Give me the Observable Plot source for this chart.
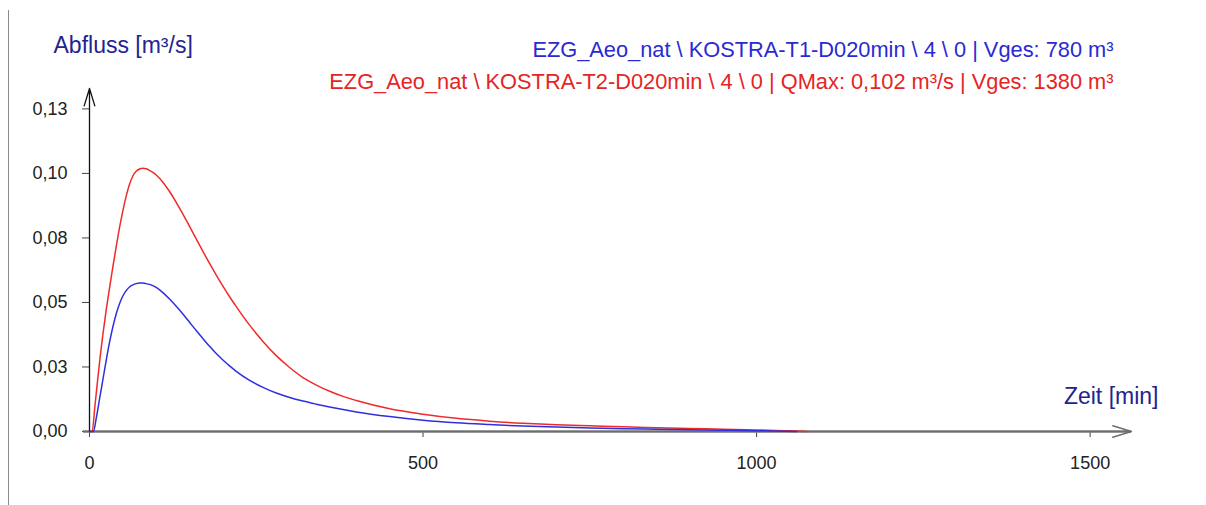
<!DOCTYPE html>
<html>
<head>
<meta charset="utf-8">
<script src="https://cdn.jsdelivr.net/npm/d3@7"></script>
<script src="https://cdn.jsdelivr.net/npm/@observablehq/plot@0.6"></script>
<style>
  html, body { margin: 0; padding: 0; background: #ffffff; }
  #wrap { position: relative; width: 1206px; height: 505px; }
  #edge { position: absolute; left: 8px; top: 10px; bottom: 0; width: 1px; background: #8c8c8c; }
</style>
</head>
<body>
<div id="wrap"><div id="edge"></div></div>
<script>
// Time [min] and discharge [m³/s]
const timeT1 = [0, 6, 10, 15, 20, 25, 30, 35, 40, 45, 50, 55, 60, 65, 70, 75, 80, 85, 90, 100, 110, 120, 130, 140, 150, 160, 170, 180, 190, 200, 210, 220, 240, 260, 280, 300, 320, 340, 360, 380, 400, 450, 500, 550, 600, 650, 700, 750, 800, 850, 900, 950, 1000, 1060];
const flowT1 = [0, 0, 0.0050, 0.0125, 0.0200, 0.0275, 0.0345, 0.0405, 0.0455, 0.0495, 0.0525, 0.0546, 0.0560, 0.0568, 0.0573, 0.0575, 0.0575, 0.0573, 0.0570, 0.0558, 0.0538, 0.0513, 0.0485, 0.0455, 0.0423, 0.0391, 0.0360, 0.0330, 0.0302, 0.0277, 0.0254, 0.0233, 0.0198, 0.0171, 0.0149, 0.0132, 0.0118, 0.0106, 0.0095, 0.0085, 0.0076, 0.0058, 0.0044, 0.0034, 0.0027, 0.0021, 0.0017, 0.0014, 0.0011, 0.0009, 0.0007, 0.0005, 0.0003, 0];

const timeT2 = [0, 4, 8, 12, 16, 20, 25, 30, 35, 40, 45, 50, 55, 60, 65, 70, 75, 80, 85, 90, 95, 100, 110, 120, 130, 140, 150, 160, 170, 180, 190, 200, 210, 220, 240, 260, 280, 300, 320, 340, 360, 380, 400, 450, 500, 550, 600, 650, 700, 750, 800, 850, 900, 950, 1000, 1050, 1075];
const flowT2 = [0, 0, 0.0095, 0.0195, 0.0290, 0.0375, 0.0470, 0.0555, 0.0638, 0.0715, 0.0790, 0.0855, 0.0912, 0.0958, 0.0990, 0.1008, 0.1017, 0.1020, 0.1018, 0.1012, 0.1004, 0.0994, 0.0966, 0.0930, 0.0888, 0.0842, 0.0795, 0.0746, 0.0698, 0.0651, 0.0606, 0.0563, 0.0522, 0.0484, 0.0412, 0.0349, 0.0294, 0.0248, 0.0209, 0.0180, 0.0156, 0.0136, 0.0120, 0.0088, 0.0067, 0.0051, 0.0040, 0.0032, 0.0026, 0.0022, 0.0018, 0.0015, 0.0012, 0.0009, 0.0006, 0.0003, 0];

const seriesNames = ["EZG_Aeo_nat \\ KOSTRA-T1-D020min \\ 4 \\ 0 | Vges: 780 m³",
                     "EZG_Aeo_nat \\ KOSTRA-T2-D020min \\ 4 \\ 0 | QMax: 0,102 m³/s | Vges: 1380 m³"];
const seriesColors = ["#2f2fe0", "#f02a2a"];
const legendColors = ["#2a2ad2", "#e52424"];

const xTicks = [0, 500, 1000, 1500];
const yTicks = [0, 0.025, 0.05, 0.075, 0.1, 0.125];
const yTickLabels = ["0,00", "0,03", "0,05", "0,08", "0,10", "0,13"];

const yAxisTitle = "Abfluss [m³/s]";
const xAxisTitle = "Zeit [min]";

const rows = [
  ...timeT1.map((t, i) => ({t, q: flowT1[i], s: 0})),
  ...timeT2.map((t, i) => ({t, q: flowT2[i], s: 1}))
];

const xMax = 1562, yMax = 0.1329;
const titleColor = "#23238e";

const chart = Plot.plot({
  width: 1206,
  height: 505,
  marginLeft: 89,
  marginRight: 75,
  marginTop: 88,
  marginBottom: 74,
  x: {domain: [0, xMax]},
  y: {domain: [0, yMax]},
  style: {fontFamily: "'Liberation Sans', Arial, sans-serif", fontSize: "18px", background: "transparent", color: "#222"},
  marks: [
    Plot.axisX(xTicks, {tickSize: 6, tickPadding: 19, stroke: "#444", fill: "#222", fontSize: 18, label: null, tickFormat: d => String(d)}),
    Plot.axisY(yTicks, {tickSize: 7, tickPadding: 15, stroke: "#444", fill: "#222", fontSize: 18, label: null, tickFormat: (d, i) => yTickLabels[i]}),
    Plot.ruleY([0], {x1: -9, x2: xMax, stroke: "#8a8a8a", strokeWidth: 2.6}),
    Plot.arrow([0], {x1: -9, x2: xMax, y1: 0, y2: 0, stroke: "#6e6e6e", strokeWidth: 1.4, headLength: 21, headAngle: 34}),
    Plot.arrow([0], {x1: 0, x2: 0, y1: 0, y2: yMax, stroke: "#111", strokeWidth: 1.3, headLength: 21, headAngle: 34}),
    Plot.line(rows.filter(d => d.s === 1), {x: "t", y: "q", stroke: seriesColors[1], strokeWidth: 1.5, curve: "monotone-x"}),
    Plot.line(rows.filter(d => d.s === 0), {x: "t", y: "q", stroke: seriesColors[0], strokeWidth: 1.5, curve: "monotone-x"}),
    Plot.text([yAxisTitle], {frameAnchor: "top-left", text: d => d, dx: -36, dy: -43, textAnchor: "start", lineAnchor: "middle", fontSize: 23, fill: titleColor}),
    Plot.text([xAxisTitle], {frameAnchor: "bottom-right", text: d => d, dx: 27, dy: -35, textAnchor: "end", lineAnchor: "middle", fontSize: 23, fill: titleColor}),
    Plot.text([seriesNames[0]], {frameAnchor: "top-right", text: d => d, dx: -18, dy: -38, textAnchor: "end", lineAnchor: "middle", fontSize: 21.8, fill: legendColors[0]}),
    Plot.text([seriesNames[1]], {frameAnchor: "top-right", text: d => d, dx: -18, dy: -6, textAnchor: "end", lineAnchor: "middle", fontSize: 21.8, fill: legendColors[1]})
  ]
});
document.getElementById("wrap").appendChild(chart);
chart.style.position = "absolute";
chart.style.left = "0";
chart.style.top = "0";
</script>
</body>
</html>
